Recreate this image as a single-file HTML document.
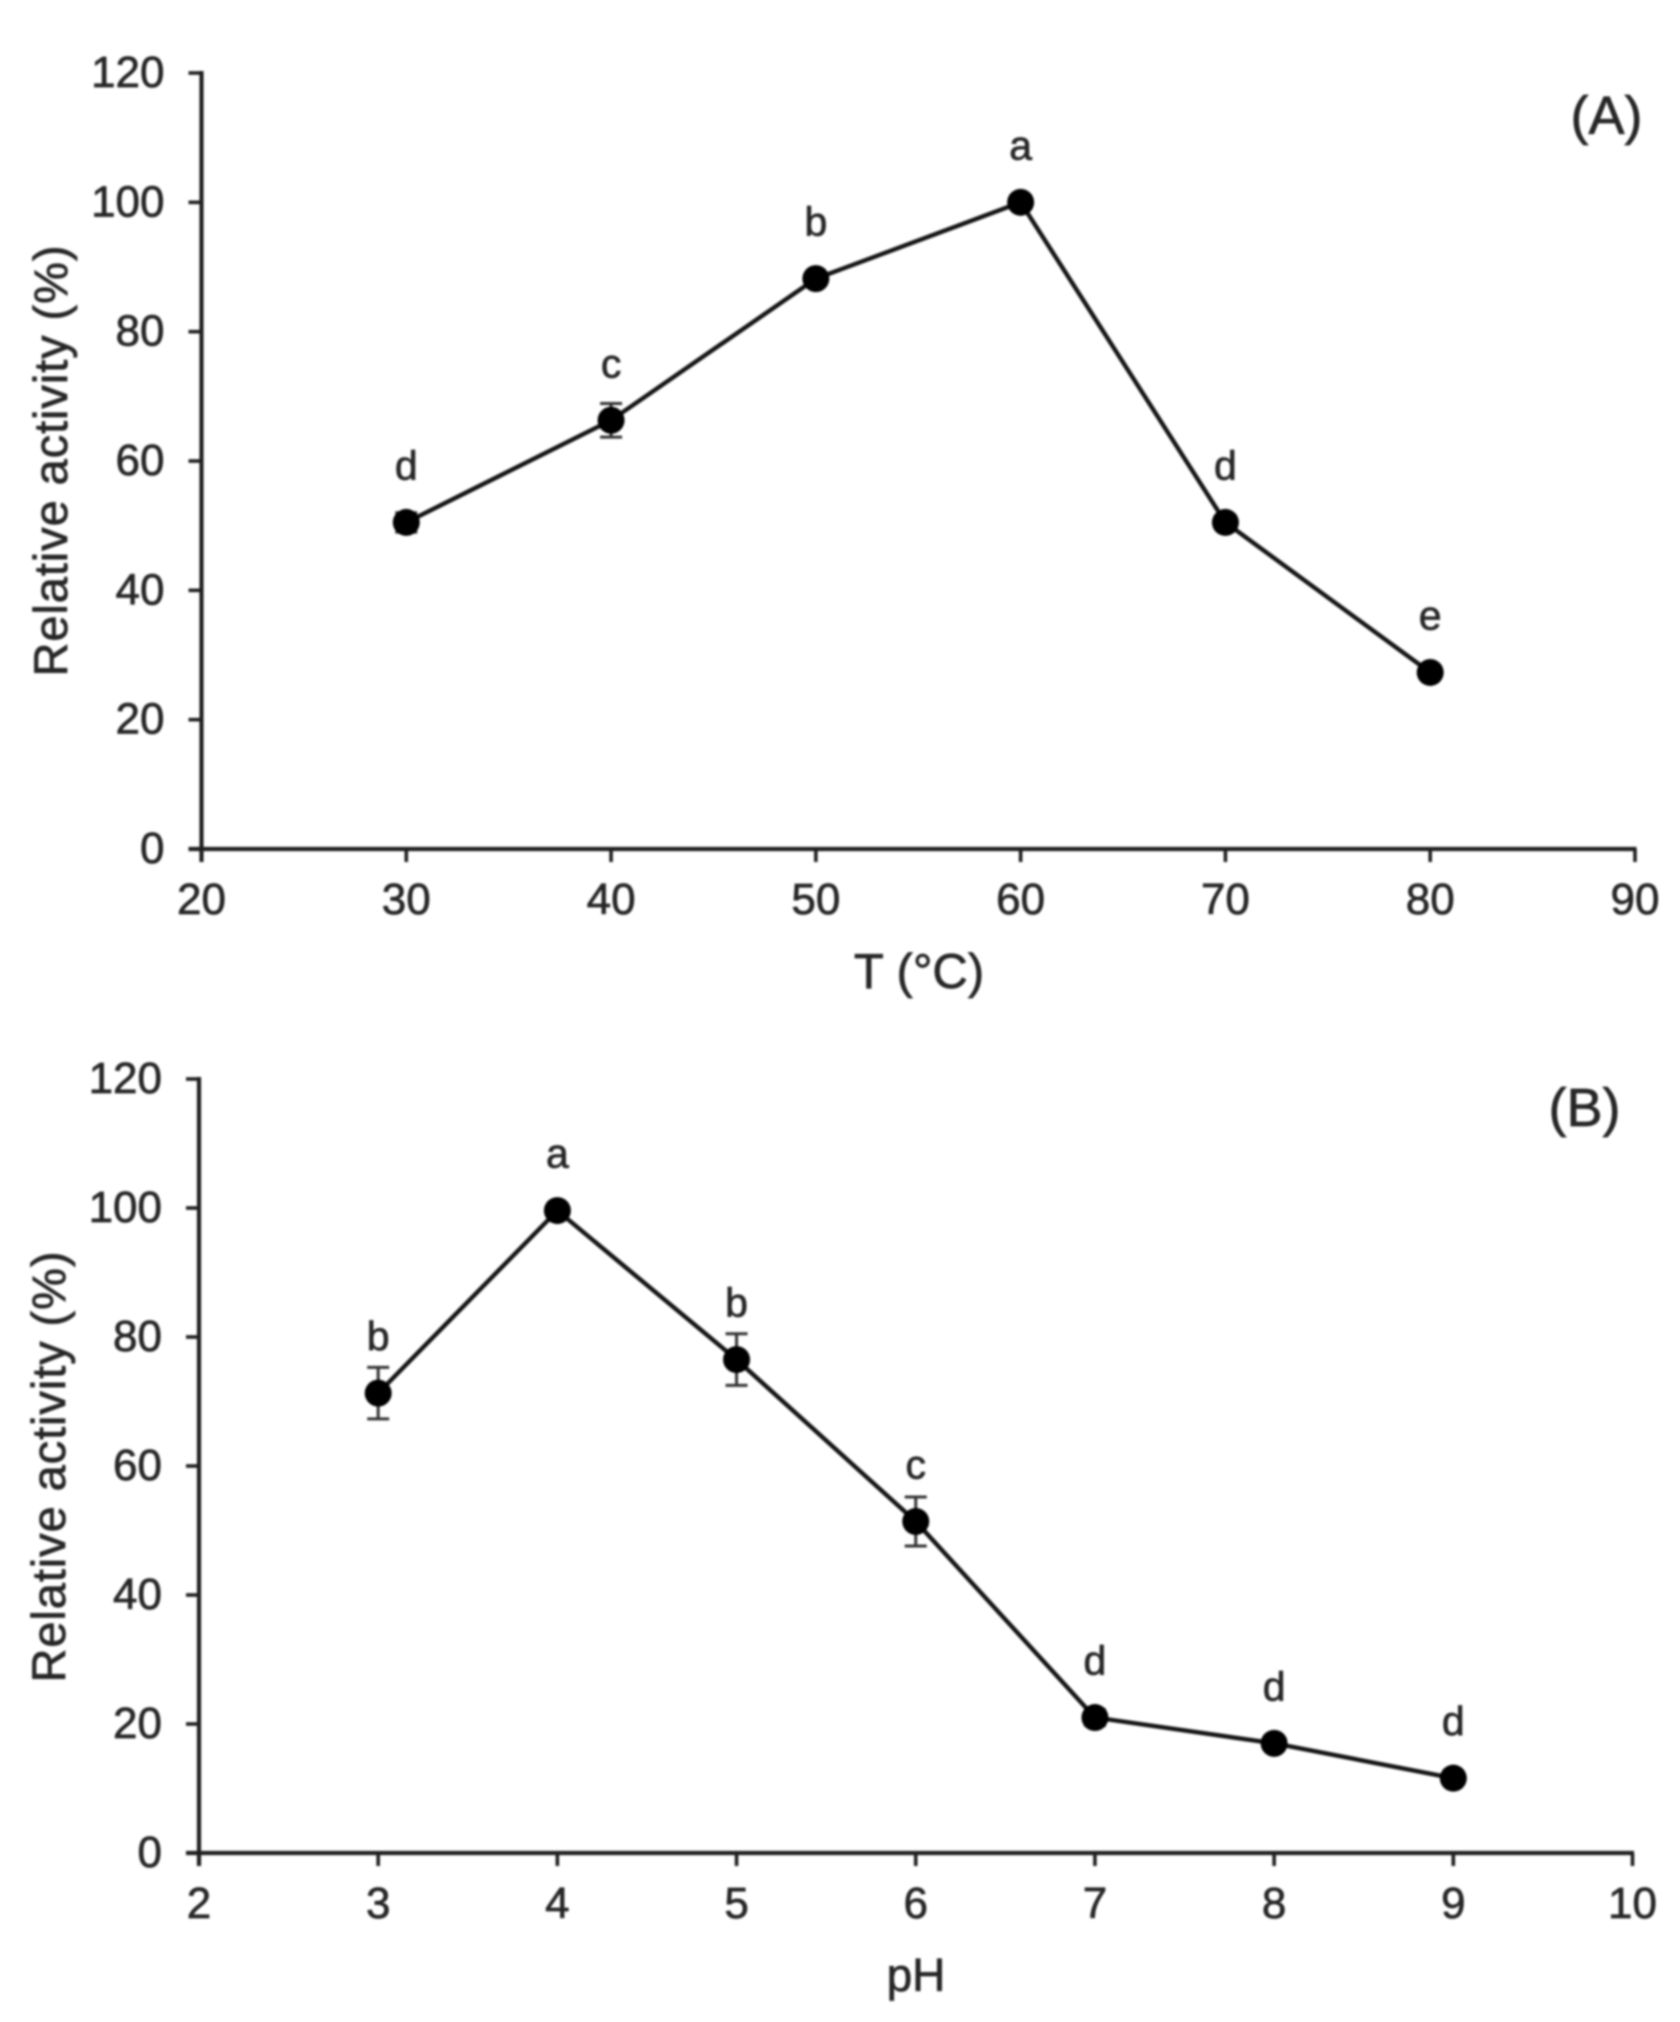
<!DOCTYPE html>
<html lang="en">
<head>
<meta charset="utf-8">
<title>Relative activity vs temperature and pH</title>
<style>
html,body{margin:0;padding:0;background:#fff;}
#figure{display:block;width:1680px;height:2022px;}
text{font-family:"Liberation Sans",Arial,sans-serif;fill:#262626;stroke:#262626;stroke-width:0.7px;}
#plot-root{filter:blur(1.1px);}
</style>
</head>
<body>
<svg id="figure" xmlns="http://www.w3.org/2000/svg" width="1680" height="2022" viewBox="0 0 1680 2022">
  <rect x="0" y="0" width="1680" height="2022" fill="#ffffff"></rect>
  <g id="plot-root">
    <g id="panel-a">
      <text x="1606.5" y="134" font-size="54" text-anchor="middle">(A)</text>
      <text x="919" y="988" font-size="49" text-anchor="middle">T (°C)</text>
      <text transform="translate(67,461) rotate(-90)" font-size="47" text-anchor="middle" textLength="431">Relative activity (%)</text>
    </g>
    <g id="panel-b">
      <text x="1584.5" y="1126" font-size="54" text-anchor="middle">(B)</text>
      <text x="916" y="1991" font-size="46" text-anchor="middle">pH</text>
      <text transform="translate(65,1467) rotate(-90)" font-size="47" text-anchor="middle" textLength="431">Relative activity (%)</text>
    </g>
  </g>
</svg>
<script>
// Shared y axis
const yTicks = [0, 20, 40, 60, 80, 100, 120];

// Panel A: temperature
const tempTicks = [20, 30, 40, 50, 60, 70, 80, 90];
const tempValues = [30, 40, 50, 60, 70, 80];
const tempActivity = [50.5, 66.3, 88.2, 100, 50.5, 27.3];
const tempError = [1.5, 2.6, 1, 0.8, 1, 0.8];
const tempLetters = ['d', 'c', 'b', 'a', 'd', 'e'];

// Panel B: pH
const phTicks = [2, 3, 4, 5, 6, 7, 8, 9, 10];
const phValues = [3, 4, 5, 6, 7, 8, 9];
const phActivity = [71.3, 99.6, 76.5, 51.4, 21, 17, 11.6];
const phError = [4, 0.8, 4, 3.8, 1.2, 0.8, 0.8];
const phLetters = ['b', 'a', 'b', 'c', 'd', 'd', 'd'];

const SVG_NS = 'http://www.w3.org/2000/svg';

function linearScale(d0, d1, r0, r1) {
  return function (v) { return r0 + (v - d0) / (d1 - d0) * (r1 - r0); };
}
function lineEl(parent, x1, y1, x2, y2, stroke, width) {
  const el = document.createElementNS(SVG_NS, 'line');
  el.setAttribute('x1', x1);
  el.setAttribute('y1', y1);
  el.setAttribute('x2', x2);
  el.setAttribute('y2', y2);
  el.setAttribute('stroke', stroke);
  el.setAttribute('stroke-width', width);
  parent.appendChild(el);
  return el;
}
function textEl(parent, x, y, str, size, anchor) {
  const el = document.createElementNS(SVG_NS, 'text');
  el.setAttribute('x', x);
  el.setAttribute('y', y);
  el.setAttribute('font-size', size);
  el.setAttribute('text-anchor', anchor);
  el.textContent = str;
  parent.appendChild(el);
  return el;
}

function drawPanel(root, frame, xTicks, xs, ys, errs, letters) {
  const sx = linearScale(xTicks[0], xTicks[xTicks.length - 1], frame.left, frame.right);
  const sy = linearScale(0, yTicks[yTicks.length - 1], frame.bottom, frame.top);
  const axisColor = '#1f1f1f';

  const yAxis = lineEl(root, frame.left, frame.top - 2, frame.left, frame.bottom + 13, axisColor, 4.2);
  
  
  const xAxis = lineEl(root, frame.left - 13, frame.bottom, frame.right + 1.5, frame.bottom, axisColor, 4.2);
  
  

  yTicks.forEach(function (t) {
    const tick = lineEl(root, frame.left - 13, sy(t), frame.left, sy(t), axisColor, 3.6);
    
    
    const label = textEl(root, frame.left - 37, sy(t) + 14, String(t), 44, 'end');
    
    
  });

  xTicks.forEach(function (t) {
    const tick = lineEl(root, sx(t), frame.bottom, sx(t), frame.bottom + 13, axisColor, 3.6);
    
    
    const label = textEl(root, sx(t), frame.bottom + 65, String(t), 44, 'middle');
    
    
  });

  xs.forEach(function (x, i) {
    const px = sx(x);
    const hi = sy(ys[i] + errs[i]);
    const lo = sy(ys[i] - errs[i]);
    const stem = lineEl(root, px, hi, px, lo, '#333333', 3);
    
    
    const capTop = lineEl(root, px - 11, hi, px + 11, hi, '#333333', 3);
    
    
    const capBottom = lineEl(root, px - 11, lo, px + 11, lo, '#333333', 3);
    
    
  });

  const path = document.createElementNS(SVG_NS, 'polyline');
  path.setAttribute('points', xs.map(function (x, i) { return sx(x) + ',' + sy(ys[i]); }).join(' '));
  path.setAttribute('fill', 'none');
  path.setAttribute('stroke', '#141414');
  path.setAttribute('stroke-width', '4.4');
  path.setAttribute('stroke-linejoin', 'miter');
  
  
  root.appendChild(path);

  xs.forEach(function (x, i) {
    const dot = document.createElementNS(SVG_NS, 'circle');
    dot.setAttribute('cx', sx(x));
    dot.setAttribute('cy', sy(ys[i]));
    dot.setAttribute('r', '13.5');
    dot.setAttribute('fill', '#000000');
    
    
    root.appendChild(dot);

    const letter = textEl(root, sx(x), sy(ys[i]) - 43, letters[i], 41, 'middle');
    
    
  });
}

drawPanel(document.getElementById('panel-a'),
  { left: 201.5, right: 1635, top: 73, bottom: 849 },
  tempTicks, tempValues, tempActivity, tempError, tempLetters);

drawPanel(document.getElementById('panel-b'),
  { left: 199, right: 1632.5, top: 1079, bottom: 1853 },
  phTicks, phValues, phActivity, phError, phLetters);
</script>
</body>
</html>
